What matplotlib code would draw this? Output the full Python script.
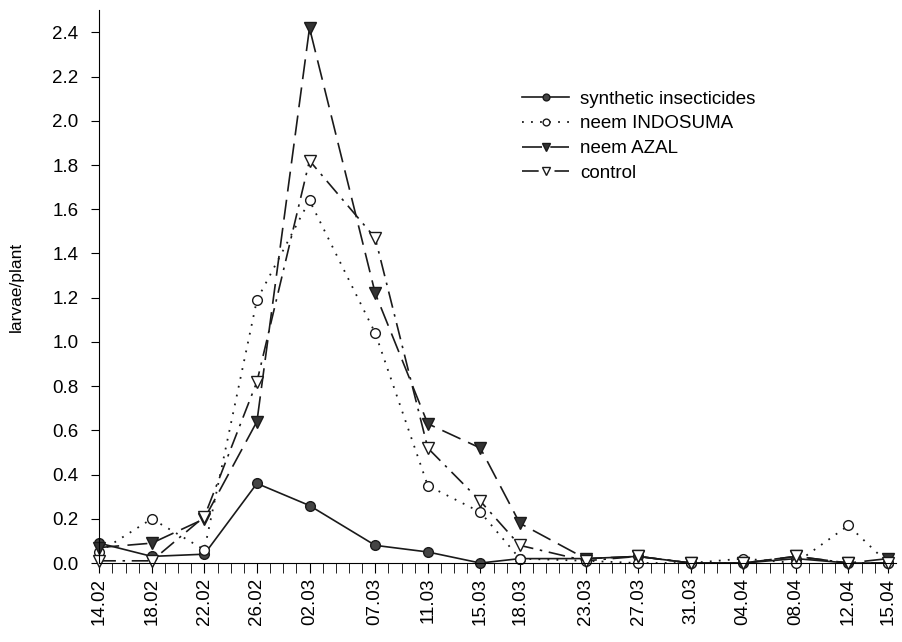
import numpy as np
import matplotlib
matplotlib.use('Agg')
import matplotlib.pyplot as plt
from matplotlib.ticker import MultipleLocator

plt.rcParams['font.family'] = ['Liberation Sans', 'DejaVu Sans']

# sampling dates as day offsets from 14.02
dates = ['14.02', '18.02', '22.02', '26.02', '02.03', '07.03', '11.03', '15.03',
         '18.03', '23.03', '27.03', '31.03', '04.04', '08.04', '12.04', '15.04']
days = [0, 4, 8, 12, 16, 21, 25, 29, 32, 37, 41, 45, 49, 53, 57, 60]

synthetic = [0.09, 0.03, 0.04, 0.36, 0.26, 0.08, 0.05, 0.0,
             0.02, 0.02, 0.03, 0.0, 0.0, 0.02, 0.0, 0.0]
indosuma = [0.05, 0.20, 0.06, 1.19, 1.64, 1.04, 0.35, 0.23,
            0.02, 0.01, 0.0, 0.0, 0.02, 0.0, 0.17, 0.0]
azal = [0.07, 0.09, 0.20, 0.64, 2.42, 1.22, 0.63, 0.52,
        0.18, 0.02, 0.03, 0.0, 0.0, 0.03, 0.0, 0.02]
control = [0.01, 0.01, 0.21, 0.82, 1.82, 1.47, 0.52, 0.28,
           0.08, 0.01, 0.03, 0.0, 0.0, 0.03, 0.0, 0.0]

fig = plt.figure(figsize=(9.02, 6.42), dpi=100)
ax = fig.add_axes([0.11, 0.123, 0.883, 0.861])

ink = '#1a1a1a'
ax.plot(days, synthetic, '-', color=ink, lw=1.2, marker='o', ms=7,
        mfc='#444444', mec=ink, clip_on=False, label='synthetic insecticides')
ax.plot(days, indosuma, color=ink, lw=1.3, ls=(0, (1, 4)), marker='o', ms=7,
        mfc='white', mec=ink, clip_on=False, label='neem INDOSUMA')
ax.plot(days, azal, color=ink, lw=1.2, ls=(0, (12, 5)), marker='v', ms=8,
        mfc='#333333', mec=ink, clip_on=False, label='neem AZAL')
ax.plot(days, control, color=ink, lw=1.2, ls=(0, (10, 4, 1.5, 4)), marker='v', ms=8,
        mfc='white', mec=ink, clip_on=False, label='control')

ax.set_xlim(0, 60.6)
ax.set_ylim(0, 2.5)
ax.set_xticks(days)
ax.set_xticklabels(dates, rotation=90, fontsize=13.5)
ax.xaxis.set_minor_locator(MultipleLocator(1))
ax.yaxis.set_major_locator(MultipleLocator(0.2))
ax.yaxis.set_major_formatter(matplotlib.ticker.FormatStrFormatter('%.1f'))
ax.tick_params(axis='y', labelsize=13.5, length=6, pad=9, direction='out')
ax.tick_params(axis='x', which='both', length=7, direction='out')
ax.spines['top'].set_visible(False)
ax.spines['right'].set_visible(False)
ax.set_ylabel('larvae/plant', fontsize=12.5, labelpad=20)

ax.legend(loc='upper left', bbox_to_anchor=(0.51, 0.885), frameon=False,
          fontsize=13.5, handlelength=2.5, labelspacing=0.4, handletextpad=0.6,
          markerscale=0.7)

fig.savefig('out.png', dpi=100)
